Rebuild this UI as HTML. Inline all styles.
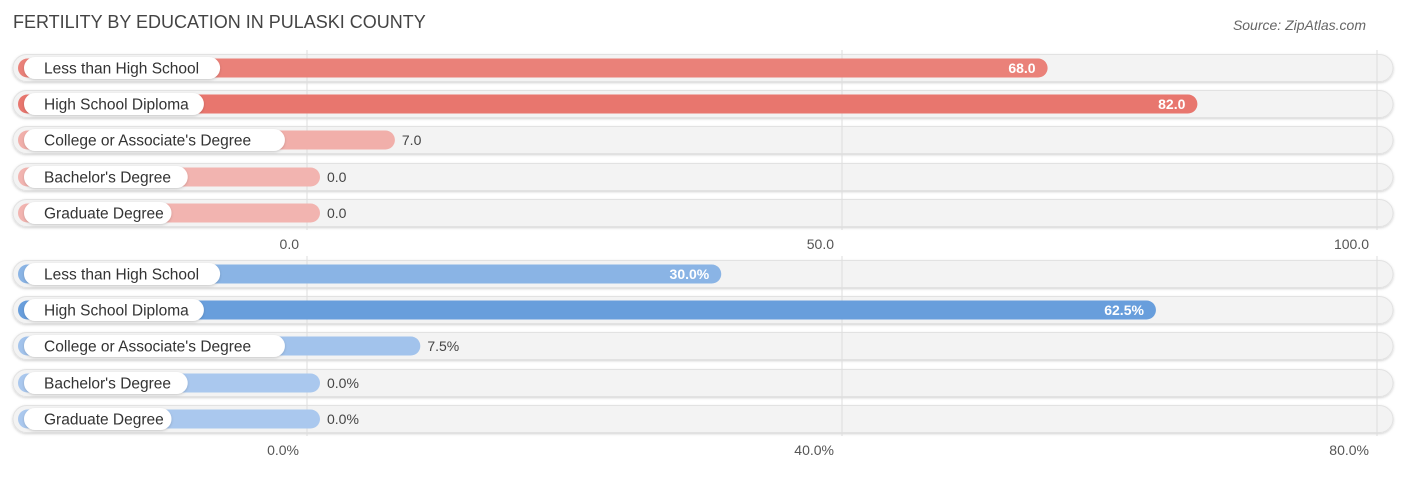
<!DOCTYPE html>
<html><head><meta charset="utf-8"><style>
body{margin:0;background:#fff;font-family:"Liberation Sans",sans-serif;}
</style></head><body>
<svg id="c" width="1406" height="475" xmlns="http://www.w3.org/2000/svg" font-family="Liberation Sans, sans-serif">
<defs><filter id="sh" x="-5%" y="-50%" width="110%" height="200%"><feDropShadow dx="0" dy="1" stdDeviation="1.2" flood-color="#000" flood-opacity="0.18"/></filter></defs>
<text x="13" y="28" font-size="18" fill="#444">FERTILITY BY EDUCATION IN PULASKI COUNTY</text>
<text x="1366" y="30" font-size="14" fill="#666" font-style="italic" text-anchor="end">Source: ZipAtlas.com</text>
</svg>
<script>
const categories=["Less than High School","High School Diploma","College or Associate's Degree","Bachelor's Degree","Graduate Degree"];
const topValues=[68.0,82.0,7.0,0.0,0.0];
const bottomValues=[30.0,62.5,7.5,0.0,0.0];
const topTicks=[0,50,100];
const bottomTicks=[0,40,80];
const topLabels=["68.0","82.0","7.0","0.0","0.0"];
const bottomLabels=["30.0%","62.5%","7.5%","0.0%","0.0%"];
const topTickLabels=["0.0","50.0","100.0"];
const bottomTickLabels=["0.0%","40.0%","80.0%"];
const svg=document.getElementById('c');
const NS="http://www.w3.org/2000/svg";
function mk(t,a,p){const e=document.createElementNS(NS,t);for(const k in a)e.setAttribute(k,a[k]);(p||svg).appendChild(e);return e;}
function lerp(a,b,t){return a.map((v,i)=>Math.round(v+(b[i]-v)*t));}
function panel(vals,labels,ticks,tickLabels,rowY,axisY,maxV,light,dark,prefix){
  const x0=307,x1=1377;
  const sx=v=>x0+(v/maxV)*(x1-x0);
  const g=mk('g',{});
  
  
  vals.forEach((v,i)=>{
    const cy=rowY[i];
    const bg=mk('rect',{x:13,y:cy-13.5,width:1380,height:27,rx:13.5,fill:'#f3f3f3',stroke:'#e2e2e2','stroke-width':1,filter:'url(#sh)'},g);
    
    
  });
  ticks.forEach((t,i)=>{
    const gl=mk('line',{x1:sx(t),x2:sx(t),y1:rowY[0]-18,y2:axisY-14,stroke:'#ddd','stroke-width':1},g);
    
    
    const tx=mk('text',{x:sx(t)-8,y:axisY+5,'font-size':14,fill:'#555','text-anchor':'end'},g);
    tx.textContent=tickLabels[i];
    
    
  });
  const mx=Math.max(...vals);
  vals.forEach((v,i)=>{
    const cy=rowY[i];
    const end=sx(v)+13;
    const col=lerp(light,dark,mx?v/mx:0);
    const b=mk('rect',{x:18,y:cy-9.5,width:end-18,height:19,rx:9.5,fill:`rgb(${col})`},g);
    
    
    const tw=categories[i].length*8.1+26;
    const p=mk('rect',{x:24,y:cy-11,width:tw,height:22,rx:11,fill:'#fff',filter:'url(#sh)'},g);
    
    
    const ct=mk('text',{x:44,y:cy+5.5,'font-size':15.5,fill:'#333'},g);
    ct.textContent=categories[i];
    
    
    const inside=v/maxV>0.3;
    const vt=mk('text',{x:inside?end-12:end+7,y:cy+5,'font-size':14,fill:inside?'#fff':'#444','text-anchor':inside?'end':'start','font-weight':inside?'bold':'normal'},g);
    vt.textContent=labels[i];
    
    
  });
}
panel(topValues,topLabels,topTicks,topTickLabels,[68,104,140,177,213],244,100,[242,180,176],[232,118,110],'count');
panel(bottomValues,bottomLabels,bottomTicks,bottomTickLabels,[274,310,346,383,419],450,80,[170,200,238],[104,158,220],'percent');
</script>
</body></html>
